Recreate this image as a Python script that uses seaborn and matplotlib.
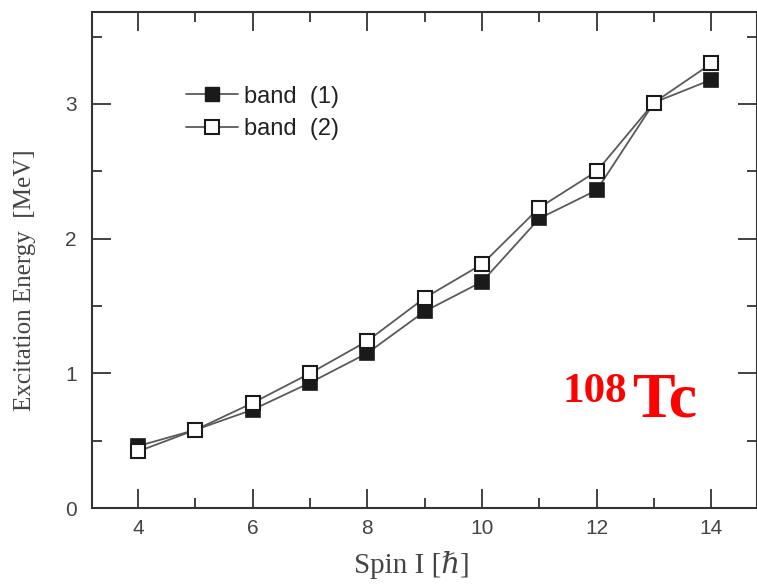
import matplotlib
matplotlib.use("Agg")
import matplotlib.pyplot as plt
from matplotlib.ticker import MultipleLocator
from matplotlib.lines import Line2D
import pandas as pd
import seaborn as sns

# values
spin = [4, 5, 6, 7, 8, 9, 10, 11, 12, 13, 14]
band1 = [0.46, 0.58, 0.73, 0.93, 1.15, 1.46, 1.68, 2.15, 2.36, 3.01, 3.18]
band2 = [0.42, 0.58, 0.78, 1.00, 1.24, 1.56, 1.81, 2.23, 2.50, 3.01, 3.30]
labels = ["band  (1)", "band  (2)"]

df = pd.DataFrame({"spin": spin, "b1": band1, "b2": band2})

sns.set_style("ticks")
plt.rcParams["font.family"] = ["Liberation Sans", "DejaVu Sans"]

fig = plt.figure(figsize=(7.57, 5.84), dpi=100)
ax = fig.add_axes([0.1215, 0.130, 0.879, 0.849])

line_col = "#5a5a5a"
sns.lineplot(data=df, x="spin", y="b1", ax=ax, color=line_col, lw=1.3,
             marker="s", markersize=9.5, markerfacecolor="#1a1a1a",
             markeredgecolor="#1a1a1a", markeredgewidth=1.2, zorder=3)
sns.lineplot(data=df, x="spin", y="b2", ax=ax, color=line_col, lw=1.3,
             marker="s", markersize=9.5, markerfacecolor="white",
             markeredgecolor="#1a1a1a", markeredgewidth=1.5, zorder=4)

ax.set_xlim(3.2, 14.8)
ax.set_ylim(0, 3.68)
ax.xaxis.set_major_locator(MultipleLocator(2))
ax.xaxis.set_minor_locator(MultipleLocator(1))
ax.yaxis.set_major_locator(MultipleLocator(1))
ax.yaxis.set_minor_locator(MultipleLocator(0.5))

ax.tick_params(which="both", direction="in", top=True, right=True,
               color="#333333", width=1.3)
ax.tick_params(which="major", length=14)
ax.tick_params(which="minor", length=7)
ax.tick_params(axis="x", which="major", labelsize=15, labelcolor="#444444", pad=8)
ax.tick_params(axis="y", which="major", labelsize=15, labelcolor="#444444", pad=11)

for s in ax.spines.values():
    s.set_color("#333333")
    s.set_linewidth(1.5)
    s.set_visible(True)

serif = ["Liberation Serif", "DejaVu Serif"]
ax.set_xlabel("Spin I [ℏ]", family=serif, fontsize=21, color="#444444")
ax.set_ylabel("Excitation Energy  [MeV]", family=serif, fontsize=18,
              color="#444444")
ax.xaxis.set_label_coords(0.481, -0.115)
ax.yaxis.set_label_coords(-0.10, 0.46)
ax.xaxis.label.set_va("center")
ax.yaxis.label.set_va("center")

handles = [
    Line2D([], [], color=line_col, lw=1.3, marker="s", markersize=10,
           markerfacecolor="#1a1a1a", markeredgecolor="#1a1a1a"),
    Line2D([], [], color=line_col, lw=1.3, marker="s", markersize=10,
           markerfacecolor="white", markeredgecolor="#1a1a1a", markeredgewidth=1.5),
]
ax.legend(handles, labels, loc="upper left", bbox_to_anchor=(0.11, 0.895),
          frameon=False, fontsize=17, handlelength=2.2, handletextpad=0.25,
          labelspacing=0.45, labelcolor="#222222")

ax.text(0.707, 0.214, "108", transform=ax.transAxes, family=serif,
        fontsize=31, fontweight="bold", color="red", va="baseline")
ax.text(0.812, 0.185, "Tc", transform=ax.transAxes, family=serif,
        fontsize=46, fontweight="bold", color="red", va="baseline")

fig.savefig("out.png", dpi=100)
